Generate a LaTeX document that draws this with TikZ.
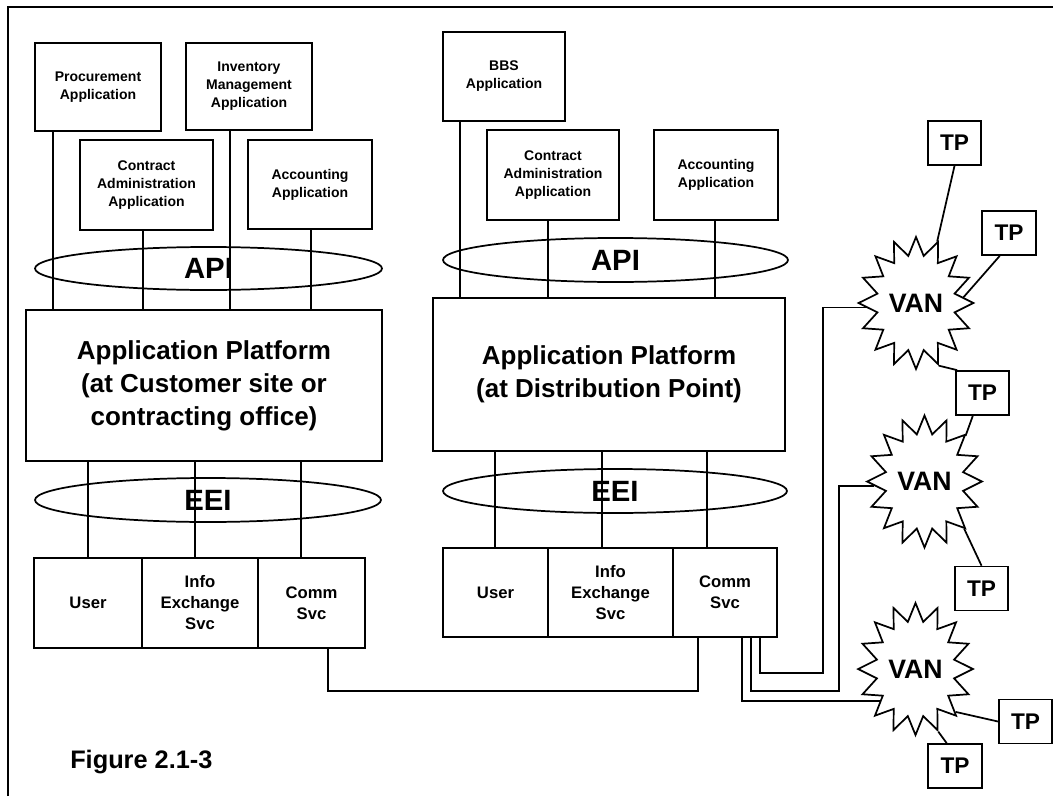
\documentclass[tikz,border=0pt]{standalone}
\usepackage{fontspec}
\setmainfont{Liberation Sans}
\usetikzlibrary{shapes.geometric,shapes.symbols}

\begin{document}
\begin{tikzpicture}[x=0.75pt,y=-0.75pt,
  box/.style={draw,line width=1.3pt,align=center,inner sep=0pt},
  appbox/.style={box,font=\fontsize{10.5}{13.5}\selectfont\bfseries},
  ring/.style={draw,ellipse,line width=1.3pt,inner sep=0pt,font=\fontsize{22}{26}\selectfont\bfseries},
  platbox/.style={box,font=\fontsize{19.5}{24.75}\selectfont\bfseries},
  svcbox/.style={box,font=\fontsize{12.5}{15.75}\selectfont\bfseries},
  van/.style={draw,starburst,starburst points=16,starburst point height=13.5pt,random starburst=0,line width=1.3pt,minimum width=86pt,minimum height=99pt,inner sep=0pt,font=\fontsize{20}{24}\selectfont\bfseries},
  tpbox/.style={box,minimum width=40pt,minimum height=33pt,font=\fontsize{17}{20}\selectfont\bfseries},
  wire/.style={line width=1.3pt}]
\useasboundingbox (0,0) rectangle (1053,796);
\draw[line width=2pt] (8,796) -- (8,7) -- (1053,7);

\node[appbox,minimum width=94.5pt,minimum height=66pt] (procL) at (98,87) {Procurement\\Application};
\node[appbox,minimum width=94.5pt,minimum height=65.25pt] (invL) at (249,86.5) {Inventory\\Management\\Application};
\node[appbox,minimum width=99.75pt,minimum height=67.5pt] (contrL) at (146.5,185) {Contract\\Administration\\Application};
\node[appbox,minimum width=93pt,minimum height=66.75pt] (acctL) at (310,184.5) {Accounting\\Application};
\node[ring,minimum width=260.25pt,minimum height=32.25pt] (apiL) at (208.5,268.5) {API};
\node[platbox,minimum width=267pt,minimum height=113.25pt] (platL) at (204,385.5) {Application Platform\\(at Customer site or\\contracting office)};
\node[ring,minimum width=259.5pt,minimum height=33pt] (eeiL) at (208,500) {EEI};
\node[svcbox,minimum width=81pt,minimum height=67.5pt] (userL) at (88,603) {User};
\node[svcbox,minimum width=87pt,minimum height=67.5pt] (infoL) at (200,603) {Info\\Exchange\\Svc};
\node[svcbox,minimum width=80.25pt,minimum height=67.5pt] (commL) at (311.5,603) {Comm\\Svc};

\node[appbox,minimum width=91.5pt,minimum height=66.75pt] (bbsR) at (504,76.5) {BBS\\Application};
\node[appbox,minimum width=99pt,minimum height=67.5pt] (contrR) at (553,175) {Contract\\Administration\\Application};
\node[appbox,minimum width=93pt,minimum height=67.5pt] (acctR) at (716,175) {Accounting\\Application};
\node[ring,minimum width=258.75pt,minimum height=33pt] (apiR) at (615.5,260) {API};
\node[platbox,minimum width=264pt,minimum height=114.75pt] (platR) at (609,374.5) {Application Platform\\(at Distribution Point)};
\node[ring,minimum width=258pt,minimum height=33pt] (eeiR) at (615,491) {EEI};
\node[svcbox,minimum width=78.75pt,minimum height=66.75pt] (userR) at (495.5,592.5) {User};
\node[svcbox,minimum width=93.75pt,minimum height=66.75pt] (infoR) at (610.5,592.5) {Info\\Exchange\\Svc};
\node[svcbox,minimum width=78pt,minimum height=66.75pt] (commR) at (725,592.5) {Comm\\Svc};

\node[van] (van1) at (916,303) {VAN};
\node[van] (van2) at (924.5,481.5) {VAN};
\node[van] (van3) at (915.5,669) {VAN};
\node[tpbox] (tp1) at (954.5,143) {TP};
\node[tpbox] (tp2) at (1009,233) {TP};
\node[tpbox] (tp3) at (982.5,393) {TP};
\node[tpbox] (tp4) at (981.5,588.5) {TP};
\node[tpbox] (tp5) at (1025.5,721.5) {TP};
\node[tpbox] (tp6) at (955,766) {TP};

\node[anchor=west,inner sep=0pt,font=\fontsize{19}{22}\selectfont\bfseries] (fig) at (70,762) {Figure 2.1-3};

\draw[wire] (procL.south -| 53,0) -- (platL.north -| 53,0);
\draw[wire] (contrL.south -| 143,0) -- (platL.north -| 143,0);
\draw[wire] (invL.south -| 230,0) -- (platL.north -| 230,0);
\draw[wire] (acctL.south -| 311,0) -- (platL.north -| 311,0);
\draw[wire] (platL.south -| 88,0) -- (userL.north -| 88,0);
\draw[wire] (platL.south -| 195,0) -- (infoL.north -| 195,0);
\draw[wire] (platL.south -| 301,0) -- (commL.north -| 301,0);

\draw[wire] (bbsR.south -| 460,0) -- (platR.north -| 460,0);
\draw[wire] (contrR.south -| 548,0) -- (platR.north -| 548,0);
\draw[wire] (acctR.south -| 715,0) -- (platR.north -| 715,0);
\draw[wire] (platR.south -| 495,0) -- (userR.north -| 495,0);
\draw[wire] (platR.south -| 602,0) -- (infoR.north -| 602,0);
\draw[wire] (platR.south -| 707,0) -- (commR.north -| 707,0);

\draw[wire] (commL.south -| 328,0) -- (328,691) -| (commR.south -| 698,0);
\draw[wire] (commR.south -| 760,0) |- (823,673) |- (van1.185);
\draw[wire] (commR.south -| 751,0) |- (839,691) |- (van2.185);
\draw[wire] (commR.south -| 742,0) |- (van3.222);

\draw[wire] (tp1.south) -- (van1.71);
\draw[wire] (tp2.248) -- (van1.7);
\draw[wire] (van1.290) -- (tp3.138);
\draw[wire] (tp3.247) -- (van2.48);
\draw[wire] (van2.310) -- (tp4.north);
\draw[wire] (van3.313) -- (tp5.west);
\draw[wire] (van3.290) -- (tp6.110);
\end{tikzpicture}
\end{document}
